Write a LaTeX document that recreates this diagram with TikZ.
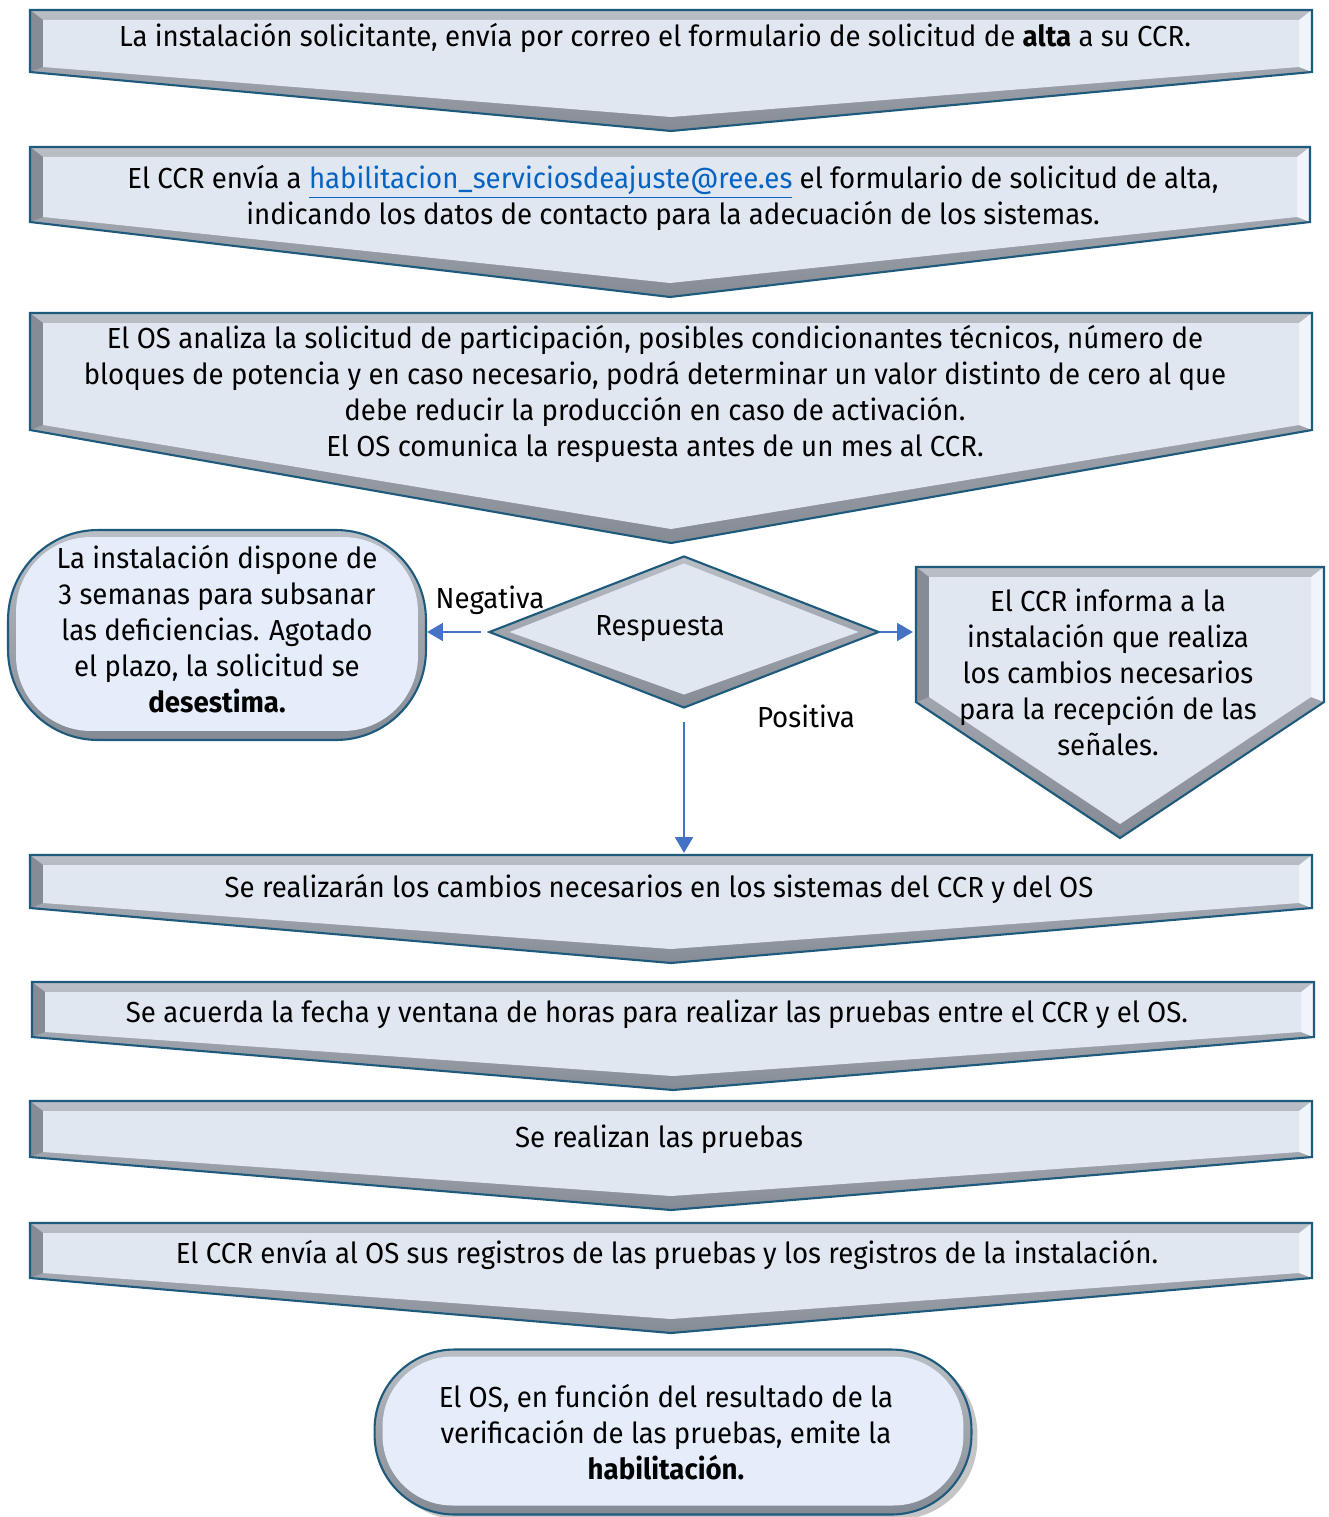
\documentclass[tikz,border=0pt]{standalone}
\usepackage{fontspec}
\setmainfont{Fira Sans}[FakeStretch=0.953]
\usetikzlibrary{arrows.meta,shadows,shapes.geometric}

\definecolor{edgeblue}{HTML}{1D5A7C}
\definecolor{facegrey}{HTML}{E1E7F1}
\definecolor{faceblue}{HTML}{E5EDFB}
\definecolor{rimtop}{HTML}{BABEC5}
\definecolor{rimbot}{HTML}{858B94}
\definecolor{rimdark}{HTML}{868C95}
\definecolor{rimlight}{HTML}{F1F4FA}
\definecolor{arrowblue}{HTML}{4472C4}
\definecolor{linkblue}{HTML}{0563C1}

\begin{document}
\begin{tikzpicture}[x=0.02cm,y=-0.02cm,
    txt/.style={align=center,inner sep=0pt,font=\fontsize{16.5}{20.5}\selectfont},
    rim/.style={top color=rimtop,bottom color=rimbot},
    face/.style={fill=facegrey},
    edge/.style={draw=edgeblue,line width=1.2pt,line join=miter},
    term/.style={rectangle,edge,rim,inner sep=0pt,
        path picture={\fill[fill=faceblue,rounded corners=#1]
            ([xshift=0.16cm,yshift=-0.14cm]path picture bounding box.north west) rectangle
            ([xshift=-0.16cm,yshift=0.18cm]path picture bounding box.south east);}},
    flow/.style={draw=arrowblue,line width=1.6pt,-{Triangle[length=9pt,width=10pt]}}]

        \useasboundingbox (0,0) rectangle (1328,1517);

        \foreach \x/\X/\t/\s/\p in {30/1312/10/72/131, 30/1310/147/222/297, 30/1312/313/430/543,
            916/1324/567/702/838, 30/1312/855/908/963, 32/1314/982/1037/1090,
            30/1312/1101/1157/1210, 30/1312/1223/1278/1333} {
            \pgfmathsetmacro{\m}{(\x+\X)/2}
            \fill[rim] (\x,\t) -- (\X,\t) -- (\X,\s) -- (\m,\p) -- (\x,\s) -- cycle;
            \fill[rimdark] (\x,\t) -- (\x+13,\t+10) -- (\x+13,\s-5) -- (\x,\s) -- cycle;
            \fill[rimlight] (\X,\t) -- (\X-13,\t+10) -- (\X-13,\s-5) -- (\X,\s) -- cycle;
            \fill[face] (\x+13,\t+10) -- (\X-13,\t+10) -- (\X-13,\s-5) -- (\m,\p-14) -- (\x+13,\s-5) -- cycle;
            \draw[edge] (\x,\t) -- (\X,\t) -- (\X,\s) -- (\m,\p) -- (\x,\s) -- cycle;
        }

        \node[txt] (alta) at (655,38) {La instalación solicitante, envía por correo el formulario de solicitud de \textbf{alta} a su CCR.};
        \node[txt] (envio) at (673,198) {El CCR envía a \textcolor{linkblue}{\underline{habilitacion\_serviciosdeajuste@ree.es}} el formulario de solicitud de alta,\\
            indicando los datos de contacto para la adecuación de los sistemas.};
        \node[txt] (analisis) at (655,394) {El OS analiza la solicitud de participación, posibles condicionantes técnicos, número de\\
            bloques de potencia y en caso necesario, podrá determinar un valor distinto de cero al que\\
            debe reducir la producción en caso de activación.\\
            El OS comunica la respuesta antes de un mes al CCR.};

        \node[term=1.5cm,minimum width=8.36cm,minimum height=4.2cm,rounded corners=1.8cm] (neg) at (217,635) {};
        \node[txt] (negtxt) at (217,629) {La instalación dispone de\\ 3 semanas para subsanar\\ las deficiencias. Agotado\\ el plazo, la solicitud se\\ \textbf{desestima.}};

        \node[diamond,edge,rim,inner sep=0pt,minimum width=7.8cm,minimum height=3.04cm,
            path picture={\fill[face] ([xshift=0.4cm]path picture bounding box.west) -- ([yshift=-0.14cm]path picture bounding box.north)
                -- ([xshift=-0.4cm]path picture bounding box.east) -- ([yshift=0.26cm]path picture bounding box.south) -- cycle;}] (dec) at (684,632) {};
        \node[txt] (resp) at (660,629) {Respuesta};

        \node[txt] (inf) at (1108,672) {El CCR informa a la\\ instalación que realiza\\ los cambios necesarios\\ para la recepción de las\\ señales.};
        \coordinate (pw) at (913,632);
        \coordinate (c4) at (684,853);

        \draw[flow] ([xshift=-0.14cm]dec.west) -- (neg.east |- dec.west);
        \draw[flow] (dec.east) -- (pw);
        \draw[flow] ([yshift=-0.26cm]dec.south) -- (c4);

        \node[txt] (lneg) at (490,600) {Negativa};
        \node[txt] (lpos) at (806,716) {Positiva};

        \node[txt] (cambios) at (659,889) {Se realizarán los cambios necesarios en los sistemas del CCR y del OS};
        \node[txt] (fecha) at (657,1014) {Se acuerda la fecha y ventana de horas para realizar las pruebas entre el CCR y el OS.};
        \node[txt] (pruebas) at (659,1139) {Se realizan las pruebas};
        \node[txt] (registros) at (667,1255) {El CCR envía al OS sus registros de las pruebas y los registros de la instalación.};

        \node[term=1.4cm,minimum width=11.94cm,minimum height=3.3cm,rounded corners=1.6cm,
            drop shadow={shadow xshift=0.12cm,shadow yshift=-0.1cm,fill=black!45}] (fin) at (673,1432) {};
        \node[txt] (fintxt) at (666,1432) {El OS, en función del resultado de la\\ verificación de las pruebas, emite la\\ \textbf{habilitación.}};
\end{tikzpicture}
\end{document}
